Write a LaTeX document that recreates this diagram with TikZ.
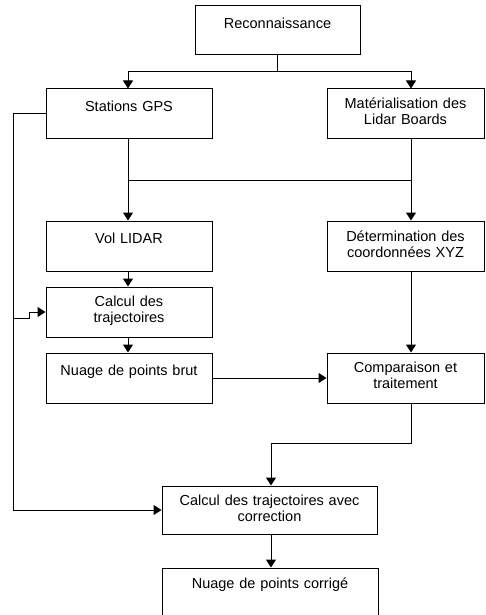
\documentclass[tikz,border=0pt]{standalone}
\usepackage{fontspec}
\setmainfont{Liberation Sans}
\usetikzlibrary{arrows.meta}
\begin{document}
\begin{tikzpicture}[x=1pt,y=-1pt,line width=1pt,
  box/.style={draw, inner sep=0pt, rectangle},
  txt/.style={anchor=base, inner sep=0pt, align=center, font=\fontsize{14.5}{16}\selectfont},
  arr/.style={-{Triangle[length=8pt,width=10pt]}}]
\useasboundingbox (0,0) rectangle (485,615);
\clip (0,0) rectangle (485,615);
% boxes
\node[box, minimum width=165pt, minimum height=49pt] (rec) at (277.5,30.5) {};
\node[box, minimum width=166pt, minimum height=49pt] (gps) at (129,113.5) {};
\node[box, minimum width=157pt, minimum height=49pt] (mat) at (405.5,113.5) {};
\node[box, minimum width=166pt, minimum height=50pt] (vol) at (129,246) {};
\node[box, minimum width=157pt, minimum height=50pt] (det) at (405.5,246) {};
\node[box, minimum width=166pt, minimum height=50pt] (calc) at (129,312) {};
\node[box, minimum width=166pt, minimum height=50pt] (brut) at (129,378) {};
\node[box, minimum width=157pt, minimum height=50pt] (comp) at (405.5,378) {};
\node[box, minimum width=215pt, minimum height=48pt] (corr) at (269.5,510) {};
\node[box, minimum width=216pt, minimum height=60pt] (fin) at (270,598) {};
% texts
\node[txt, text width=160pt] (rec-t) at ([yshift=-23pt]rec.north) {Reconnaissance};
\node[txt, text width=160pt] (gps-t) at ([yshift=-23pt]gps.north) {Stations GPS};
\node[txt, text width=155pt] (mat-t) at ([yshift=-20pt]mat.north) {Matérialisation des\\Lidar Boards};
\node[txt, text width=160pt] (vol-t) at ([yshift=-23pt]vol.north) {Vol LIDAR};
\node[txt, text width=155pt] (det-t) at ([yshift=-21pt]det.north) {Détermination des\\coordonnées XYZ};
\node[txt, text width=160pt] (calc-t) at ([yshift=-20pt]calc.north) {Calcul des\\trajectoires};
\node[txt, text width=160pt] (brut-t) at ([yshift=-23pt]brut.north) {Nuage de points brut};
\node[txt, text width=155pt] (comp-t) at ([yshift=-20pt]comp.north) {Comparaison et\\traitement};
\node[txt, text width=210pt] (corr-t) at ([yshift=-20pt]corr.north) {Calcul des trajectoires avec\\correction};
\node[txt, text width=210pt] (fin-t) at ([yshift=-21pt]fin.north) {Nuage de points corrigé};
% helper coordinates
\coordinate (gx) at (128,0);
\coordinate (mx) at (411,0);
\coordinate (cx) at (271,0);
\coordinate (lx) at (13,0);
\coordinate (j0) at (277.5,72);
\coordinate (k1) at (128,180);
\coordinate (k2) at (411,180);
\coordinate (b1) at (13,318);
\coordinate (b2) at (29,318);
\coordinate (m1) at (411,443);
% connectors
\draw (rec.south) -- (j0);
\draw[arr] (j0) -| (gps.north -| gx);
\draw[arr] (j0) -| (mat.north -| mx);
\draw (gps.south -| gx) -- (k1) -- (k2);
\draw (mat.south -| mx) -- (k2);
\draw[arr] (k1) -- (vol.north -| gx);
\draw[arr] (k2) -- (det.north -| mx);
\draw[arr] (vol.south -| gx) -- (calc.north -| gx);
\draw[arr] (calc.south -| gx) -- (brut.north -| gx);
\draw[arr] (gps.west) -- (gps.west -| lx) |- (corr.west);
\draw[arr] (b1) -- (b2) |- (calc.west);
\draw[arr] (brut.east) -- (comp.west);
\draw[arr] (det.south -| mx) -- (comp.north -| mx);
\draw[arr] (comp.south -| mx) -- (m1) -| (corr.north -| cx);
\draw[arr] (corr.south -| cx) -- (fin.north -| cx);
\end{tikzpicture}
\end{document}
